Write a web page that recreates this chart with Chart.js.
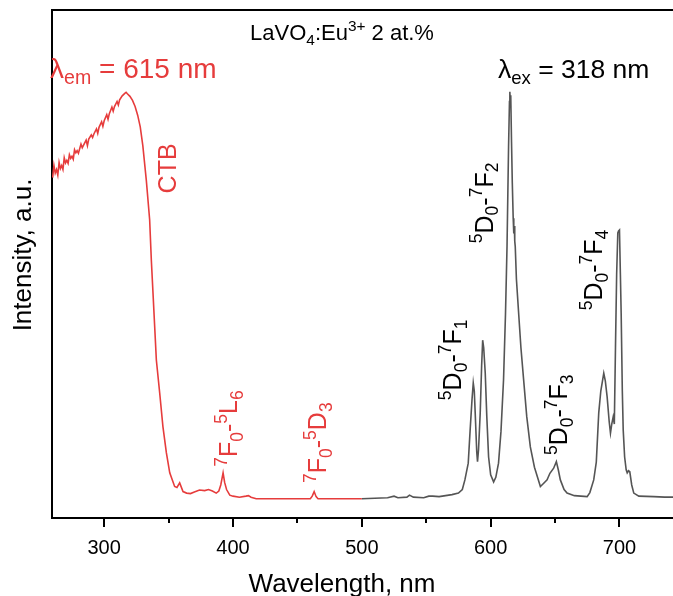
<!DOCTYPE html>
<html>
<head>
<meta charset="utf-8">
<script src="https://cdn.jsdelivr.net/npm/chart.js@4.4.1/dist/chart.umd.min.js"></script>
<style>
html, body { margin: 0; padding: 0; background: #fff; overflow: hidden; }
#wrap { width: 673px; height: 596px; overflow: hidden; }
</style>
</head>
<body>
<div id="wrap"><canvas id="myChart" width="700" height="596"></canvas></div>
<script>
// excitation spectrum (lambda_em = 615 nm)
const exWave = [260, 261, 262, 263, 264, 265, 266, 267, 268, 269, 270, 271, 272, 273, 274, 275, 276, 277, 278, 279,
    280, 282, 283, 284, 286, 287, 288, 290, 291, 292, 294, 295, 296, 298, 299, 300, 302, 303, 304, 306,
    307, 308, 310, 311, 312, 314, 316, 317, 318, 320, 322, 324, 326, 328, 330, 332.7, 335.3, 336.6, 337.9, 339.2,
    340.5, 343.1, 345.6, 348.3, 350.9, 354.7, 356.5, 358.6, 361.2, 364, 367, 370, 374, 378, 381, 384, 387, 389, 390.5, 392.3,
    393.5, 395, 397.5, 400, 405, 410, 412, 414, 418, 430, 445, 460, 461.5, 463, 464.5, 466, 480, 500];
const exInt = [67.0, 69.4, 67.9, 68.6, 67.5, 70.0, 68.8, 69.4, 68.6, 70.9, 69.9, 70.4, 69.8, 71.5, 70.8, 71.2, 70.6, 72.5, 71.9, 72.3,
    71.8, 73.6, 72.9, 73.4, 74.4, 73.3, 74.6, 75.4, 74.9, 75.6, 76.6, 75.7, 76.9, 78.0, 77.1, 78.2, 79.4, 78.5, 79.6, 80.9,
    80.1, 81.0, 82.0, 81.3, 82.3, 83.1, 83.6, 83.8, 83.5, 83.0, 82.2, 81.0, 79.3, 77.0, 73.3, 66.5, 58.7, 50.8, 44.3, 37.7,
    31.1, 24.6, 18.0, 12.8, 8.9, 6.2, 6.0, 6.9, 5.2, 4.9, 4.8, 5.1, 5.5, 5.4, 5.6, 5.3, 4.9, 5.3, 6.5, 8.9,
    7.0, 5.6, 4.5, 4.3, 4.1, 4.3, 4.4, 4.1, 3.8, 3.8, 3.8, 3.8, 4.3, 5.2, 4.2, 3.8, 3.8, 3.8];

// emission spectrum (lambda_ex = 318 nm)
const emWave = [500, 510, 520, 525, 528, 535, 537, 540, 548, 552, 555, 560, 565, 570, 575, 578, 580, 582.6, 584, 585.5,
    586.5, 587.3, 588, 589.2, 589.8, 590.6, 591.9, 593, 593.8, 594.6, 595.8, 597, 598.4, 600, 602.3, 604, 606.1, 608, 610, 611.5,
    612.7, 613.9, 614.6, 614.9, 615.3, 615.6, 616.2, 616.8, 617.5, 617.8, 618.1, 618.4, 618.7, 619.1, 620, 621.7, 623.5, 625.6, 628, 630.8,
    634, 638.6, 641, 643.8, 646, 648.9, 651, 652.5, 654.1, 657, 659.3, 665, 670, 674.9, 677, 680, 682, 683.9, 685.5, 687.8,
    689, 690.4, 692, 693, 694, 695.1, 696, 696.9, 697.8, 698.7, 699.3, 700, 700.7, 701.3, 702.2, 702.9, 704, 705.2, 706, 707,
    708, 709.5, 711.1, 715, 726.7, 735, 745, 765];
const emInt = [3.8, 3.9, 4.0, 4.3, 4.0, 4.1, 4.5, 4.1, 4.0, 4.3, 4.3, 4.2, 4.4, 4.6, 4.9, 5.6, 7.5, 10.8, 17.0, 23.2,
    26.6, 25.0, 20.7, 13.0, 11.1, 13.5, 20.7, 30.0, 35.0, 33.5, 28.5, 20.0, 12.0, 8.5, 7.1, 8.0, 10.8, 17.0, 27.2, 40.0,
    53.4, 73.1, 82.0, 83.9, 81.5, 83.2, 74.0, 66.0, 59.0, 58.1, 56.0, 57.5, 54.5, 53.4, 47.0, 40.4, 33.5, 27.2, 20.0, 14.0,
    10.0, 6.2, 6.8, 7.5, 8.8, 9.8, 11.1, 9.5, 7.5, 5.6, 4.9, 4.4, 4.3, 4.2, 5.0, 7.5, 11.0, 20.7, 25.0, 28.5,
    27.0, 23.9, 19.0, 16.7, 18.5, 19.9, 18.5, 33.7, 48.0, 56.1, 56.5, 56.7, 48.0, 40.4, 25.0, 17.3, 12.0, 9.5, 8.9, 9.3,
    9.1, 6.5, 4.9, 4.3, 4.2, 4.1, 4.1, 4.1];

const majorTicks = [300, 400, 500, 600, 700];
const minorTicks = [350, 450, 550, 650];

const RED = '#e63c3c';
const GRAY = '#555555';
const FONT = '"Liberation Sans", Arial, sans-serif';

// rotated transition labels, anchored at (wavelength, intensity)
const notes = [
    { segs: [['7', 'sup'], ['F'], ['0', 'sub'], ['-'], ['5', 'sup'], ['L'], ['6', 'sub']], at: [403.4, 10.1], color: RED },
    { segs: [['7', 'sup'], ['F'], ['0', 'sub'], ['-'], ['5', 'sup'], ['D'], ['3', 'sub']], at: [472.2, 6.9], color: RED },
    { segs: [['5', 'sup'], ['D'], ['0', 'sub'], ['-'], ['7', 'sup'], ['F'], ['1', 'sub']], at: [577.1, 23.2], color: '#000' },
    { segs: [['5', 'sup'], ['D'], ['0', 'sub'], ['-'], ['7', 'sup'], ['F'], ['2', 'sub']], at: [601.7, 54.1], color: '#000' },
    { segs: [['5', 'sup'], ['D'], ['0', 'sub'], ['-'], ['7', 'sup'], ['F'], ['3', 'sub']], at: [659.6, 12.4], color: '#000' },
    { segs: [['5', 'sup'], ['D'], ['0', 'sub'], ['-'], ['7', 'sup'], ['F'], ['4', 'sub']], at: [686.8, 40.9], color: '#000' },
    { segs: [['CTB']], at: [356.1, 63.9], color: RED }
];

function drawRich(ctx, segs, size) {
    let x = 0;
    for (const [t, k] of segs) {
        const s = k ? size * 0.7 : size;
        ctx.font = s + 'px ' + FONT;
        const dy = k === 'sup' ? -size * 0.42 : (k === 'sub' ? size * 0.22 : 0);
        ctx.fillText(t, x, dy);
        x += ctx.measureText(t).width;
    }
    return x;
}

function richWidth(ctx, segs, size) {
    let w = 0;
    for (const [t, k] of segs) {
        ctx.font = (k ? size * 0.7 : size) + 'px ' + FONT;
        w += ctx.measureText(t).width;
    }
    return w;
}

const decor = {
    id: 'decor',
    afterDraw(chart) {
        const ctx = chart.ctx;
        const xs = chart.scales.x, ys = chart.scales.y;
        const area = chart.chartArea;
        ctx.save();
        ctx.strokeStyle = '#000';
        ctx.lineWidth = 2;
        // top frame line
        ctx.beginPath();
        ctx.moveTo(area.left - 1, area.top);
        ctx.lineTo(area.right, area.top);
        ctx.stroke();
        // tick marks
        majorTicks.concat(minorTicks).forEach(v => {
            const px = Math.round(xs.getPixelForValue(v));
            const len = majorTicks.includes(v) ? 9 : 5;
            ctx.beginPath();
            ctx.moveTo(px, area.bottom);
            ctx.lineTo(px, area.bottom + len);
            ctx.stroke();
        });

        ctx.textBaseline = 'alphabetic';
        ctx.textAlign = 'left';
        // transition labels
        notes.forEach(n => {
            ctx.save();
            ctx.fillStyle = n.color;
            ctx.translate(xs.getPixelForValue(n.at[0]), ys.getPixelForValue(n.at[1]));
            ctx.rotate(-Math.PI / 2);
            drawRich(ctx, n.segs, 25);
            ctx.restore();
        });

        // title
        const title = [['LaVO'], ['4', 'sub'], [':Eu'], ['3+', 'sup'], [' 2 at.%']];
        ctx.save();
        ctx.fillStyle = '#000';
        ctx.translate(342 - richWidth(ctx, title, 22) / 2, 40);
        drawRich(ctx, title, 22);
        ctx.restore();

        ctx.save();
        ctx.fillStyle = RED;
        ctx.translate(50, 78);
        drawRich(ctx, [['\u03bb'], ['em', 'sub'], [' = 615 nm']], 28);
        ctx.restore();

        ctx.save();
        ctx.fillStyle = '#000';
        ctx.translate(498, 78);
        drawRich(ctx, [['\u03bb'], ['ex', 'sub'], [' = 318 nm']], 26.5);
        ctx.restore();

        // axis titles
        ctx.fillStyle = '#000';
        ctx.font = '26px ' + FONT;
        ctx.textAlign = 'center';
        ctx.fillText('Wavelength, nm', 342, 592);
        ctx.translate(31, (area.top + area.bottom) / 2 - 9);
        ctx.rotate(-Math.PI / 2);
        ctx.fillText('Intensity, a.u.', 0, 0);
        ctx.restore();
    }
};

const ctx = document.getElementById('myChart').getContext('2d');

const myChart = new Chart(ctx, {
    type: 'line',
    data: {
        datasets: [
            {
                label: 'excitation',
                data: exWave.map((w, i) => ({ x: w, y: exInt[i] })),
                borderColor: RED,
                borderWidth: 1.6,
                pointRadius: 0,
                tension: 0
            },
            {
                label: 'emission',
                data: emWave.map((w, i) => ({ x: w, y: emInt[i] })),
                borderColor: GRAY,
                borderWidth: 1.6,
                pointRadius: 0,
                tension: 0
            }
        ]
    },
    options: {
        responsive: false,
        animation: false,
        layout: { padding: { top: 10, left: 0, right: 0, bottom: 0 } },
        plugins: { legend: { display: false }, tooltip: { enabled: false } },
        scales: {
            x: {
                type: 'linear',
                min: 259.5,
                max: 762.5,
                afterFit: s => { s.height = 78; },
                afterBuildTicks: s => { s.ticks = majorTicks.map(v => ({ value: v })); },
                grid: { display: false },
                border: { display: true, color: '#000', width: 2 },
                ticks: {
                    autoSkip: false,
                    maxRotation: 0,
                    padding: 10,
                    color: '#000',
                    font: { family: FONT, size: 20 }
                }
            },
            y: {
                min: 0,
                max: 100,
                afterFit: s => { s.width = 52; },
                grid: { display: false },
                border: { display: true, color: '#000', width: 2 },
                ticks: { display: false }
            }
        }
    },
    plugins: [decor]
});
</script>
</body>
</html>
